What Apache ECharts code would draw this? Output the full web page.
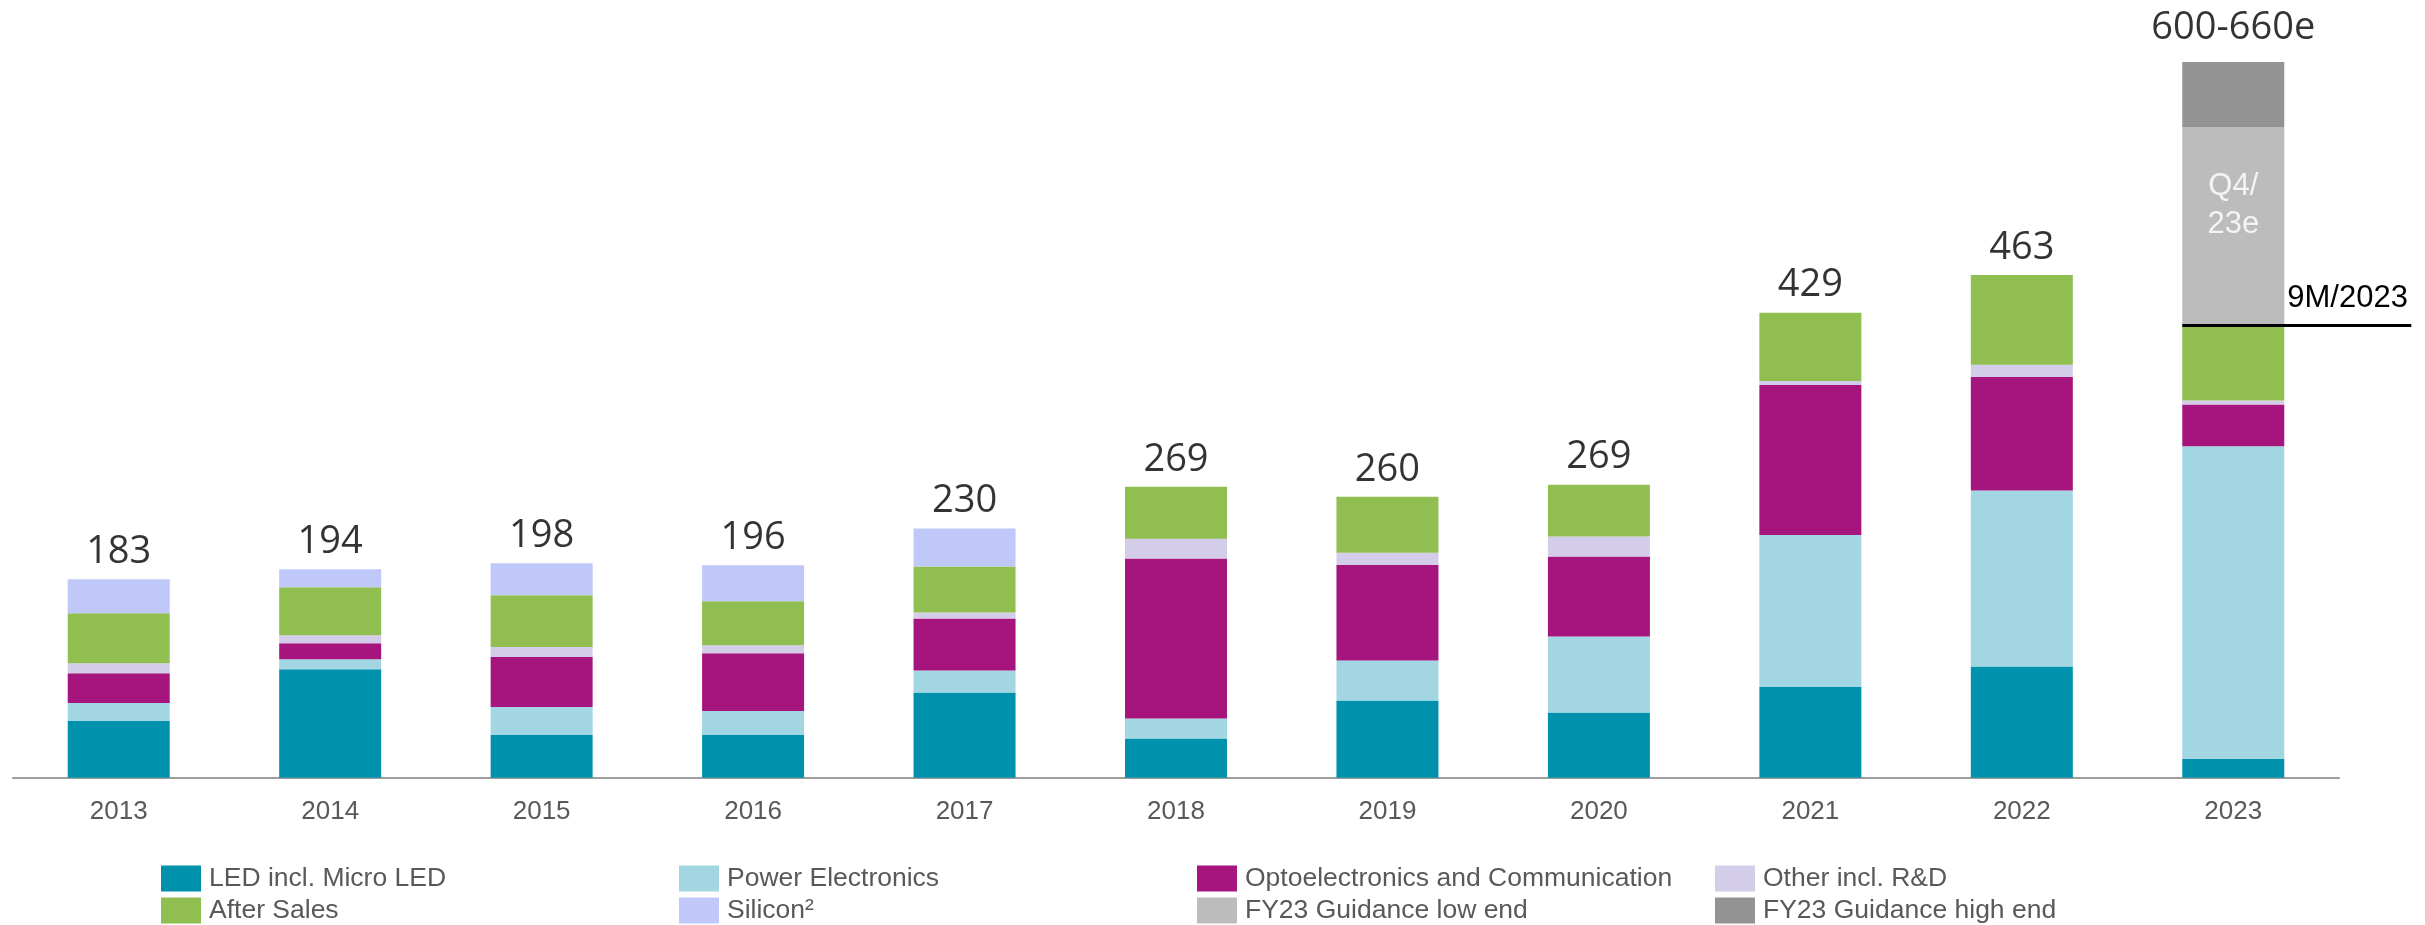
<!DOCTYPE html>
<html>
<head>
<meta charset="utf-8">
<script src="https://cdn.jsdelivr.net/npm/echarts@6/dist/echarts.min.js"></script>
<style>html,body{margin:0;padding:0;background:#fff;}#c{width:2425px;height:925px;}</style>
</head>
<body>
<div id="c"></div>
<script>
const categories = ['2013','2014','2015','2016','2017','2018','2019','2020','2021','2022','2023'];
const led      = [52.2, 100.1, 39.3, 39.3, 78.6, 36.2, 71.2, 60.2, 83.7, 102.5, 17.4];
const power    = [16.6, 9.2, 25.8, 22.1, 20.3, 18.4, 36.8, 70.0, 140.1, 162.2, 288.2];
const opto     = [27.6, 14.7, 46.1, 53.4, 47.9, 147.4, 88.4, 73.7, 138.2, 104.8, 38.5];
const other    = [9.2, 7.4, 9.2, 7.4, 5.5, 18.4, 11.1, 18.4, 3.8, 11.3, 3.8];
const afterSales = [46.1, 44.2, 47.9, 40.5, 42.4, 47.9, 51.6, 47.9, 63.0, 82.7, 69.1];
const silicon  = [31.3, 16.6, 29.5, 33.2, 35.0, 0, 0, 0, 0, 0, 0];
const guideLow = [0, 0, 0, 0, 0, 0, 0, 0, 0, 0, 183];
const guideHigh = [0, 0, 0, 0, 0, 0, 0, 0, 0, 0, 60];
const totalLabels = ['183','194','198','196','230','269','260','269','429','463','600-660e'];
const nineMonth = 417;
const nineMonthLabel = '9M/2023';
const q4Label = 'Q4/\n23e';

const names = ['LED incl. Micro LED','Power Electronics','Optoelectronics and Communication','Other incl. R&D','After Sales','Silicon²','FY23 Guidance low end','FY23 Guidance high end'];
const colors = ['#0091AD','#A1D6E2','#A6147D','#D3CDEA','#90BE51','#BFC8F9','#BBBCBB','#939393'];
const seriesData = [led, power, opto, other, afterSales, silicon, guideLow, guideHigh];

const tops = categories.map((c, i) => seriesData.reduce((s, arr) => s + arr[i], 0));

const barSeries = seriesData.map((arr, k) => {
  const s = {
    name: names[k], type: 'bar', stack: 'rev', barWidth: 102,
    itemStyle: { color: colors[k] },
    data: arr.slice(),
    emphasis: { disabled: true },
    silent: true
  };
  if (k === 6) {
    s.data = arr.map((v, i) => i === arr.length - 1 ? {
      value: v,
      label: { show: true, formatter: q4Label, position: 'inside', offset: [0, -21],
        color: '#f4f4f4', fontSize: 31, lineHeight: 38, fontFamily: 'Liberation Sans, Arial, sans-serif' }
    } : v);
  }
  return s;
});

const totalSeries = {
  type: 'scatter', symbolSize: 0, silent: true,
  data: tops.map((v, i) => ({ value: v, label: { distance: i === tops.length - 1 ? 15 : 8 } })),
  label: {
    show: true, position: 'top',
    formatter: p => totalLabels[p.dataIndex],
    color: '#000', fontSize: 38, fontFamily: 'Open Sans, Noto Sans, sans-serif'
  }
};

const legendBase = {
  orient: 'vertical', top: 865, itemWidth: 40, itemHeight: 26, itemGap: 5, padding: 0,
  icon: 'rect', selectedMode: false,
  textStyle: { color: '#595959', fontSize: 26.5, fontFamily: 'Liberation Sans, Arial, sans-serif', padding: [0,0,0,3] }
};
const legendCols = [[0,4],[1,5],[2,6],[3,7]];
const legendLefts = [161, 679, 1197, 1715];

const chart = echarts.init(document.getElementById('c'));
chart.setOption({
  animation: false,
  backgroundColor: '#fff',
  grid: { left: 13, right: 86, top: 18.5, bottom: 147.3, containLabel: false },
  legend: legendCols.map((col, j) => Object.assign({}, legendBase, { left: legendLefts[j], data: col.map(k => names[k]) })),
  xAxis: {
    type: 'category', data: categories,
    axisLine: { lineStyle: { color: '#9e9e9e', width: 2 } },
    axisTick: { show: false },
    axisLabel: { color: '#595959', fontSize: 26, margin: 21, fontFamily: 'Liberation Sans, Arial, sans-serif' }
  },
  yAxis: { type: 'value', min: 0, max: 700, show: false, splitLine: { show: false } },
  series: barSeries.concat([totalSeries])
});

const p = chart.convertToPixel({ xAxisIndex: 0, yAxisIndex: 0 }, [categories[categories.length - 1], nineMonth]);
chart.setOption({
  graphic: [
    { type: 'line', silent: true, shape: { x1: p[0] - 51, y1: p[1], x2: p[0] + 178, y2: p[1] },
      style: { stroke: '#000', lineWidth: 3 }, z: 100 },
    { type: 'text', silent: true, x: p[0] + 54, y: p[1] - 11,
      style: { text: nineMonthLabel, fill: '#000', fontSize: 31, fontFamily: 'Liberation Sans, Arial, sans-serif', verticalAlign: 'bottom', align: 'left' }, z: 100 }
  ]
});
</script>
</body>
</html>
